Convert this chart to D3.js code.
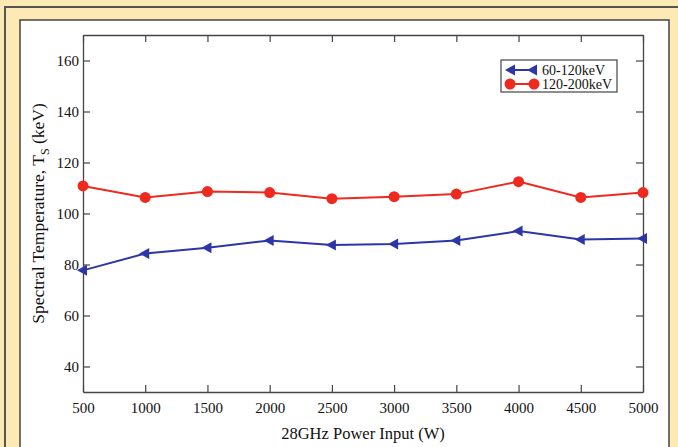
<!DOCTYPE html>
<html>
<head>
<meta charset="utf-8">
<script src="https://cdn.jsdelivr.net/npm/d3@7"></script>
<style>
  body { margin: 0; background: #fde9b3; }
  svg { display: block; font-family: "Liberation Serif", "Times New Roman", serif; }
</style>
</head>
<body>
<div id="chart"></div>
<script>
// data
const power = [500, 1000, 1500, 2000, 2500, 3000, 3500, 4000, 4500, 5000];
const lowBand = [77.7, 84.3, 86.6, 89.4, 87.6, 88.0, 89.4, 93.1, 89.8, 90.2];
const highBand = [110.8, 106.3, 108.6, 108.2, 105.8, 106.6, 107.6, 112.5, 106.3, 108.2];
const yTicks = [40, 60, 80, 100, 120, 140, 160];
const seriesNames = ["60-120keV", "120-200keV"];

const width = 678;
const height = 447;
const marginLeft = 83;
const marginRight = 35;
const marginTop = 35;
const marginBottom = 55;

const svg = d3.select("#chart")
  .append("svg")
  .attr("width", width)
  .attr("height", height);

// frame around the figure
svg.append("rect")
  .attr("x", 5).attr("y", 7)
  .attr("width", width + 10).attr("height", height + 10)
  .attr("fill", "#fde9b3")
  .attr("stroke", "#555").attr("stroke-width", 2);

svg.append("rect")
  .attr("x", 20).attr("y", 20)
  .attr("width", 649).attr("height", height)
  .attr("fill", "#fff")
  .attr("stroke", "#444").attr("stroke-width", 1.5);

// scales
const xScale = d3.scaleLinear()
  .domain([500, 5000])
  .range([marginLeft, width - marginRight]);

const yScale = d3.scaleLinear()
  .domain([30, 170])
  .range([height - marginBottom, marginTop]);

// axes, ticks point inward
const tickLen = 7;
const tickFont = 15;
const ax = svg.append("g");

function styleAxis(g) {
  g.attr("font-size", tickFont).attr("font-family", "Liberation Serif, serif");
  g.select(".domain").attr("stroke", "#444").attr("stroke-width", 1.3);
  g.selectAll(".tick line").attr("stroke", "#444").attr("stroke-width", 1.2);
  g.selectAll("text").attr("fill", "#111");
}

ax.append("g")
  .attr("transform", `translate(0,${height - marginBottom})`)
  .call(d3.axisBottom(xScale).tickValues(power).tickFormat(d3.format("d"))
    .tickSizeInner(-tickLen).tickSizeOuter(0).tickPadding(10))
  .call(styleAxis);

ax.append("g")
  .attr("transform", `translate(0,${marginTop})`)
  .call(d3.axisTop(xScale).tickValues(power).tickSizeInner(-tickLen).tickSizeOuter(0).tickFormat(""))
  .call(styleAxis);

ax.append("g")
  .attr("transform", `translate(${marginLeft},0)`)
  .call(d3.axisLeft(yScale).tickValues(yTicks).tickSizeInner(-tickLen).tickSizeOuter(0).tickPadding(4))
  .call(styleAxis);

ax.append("g")
  .attr("transform", `translate(${width - marginRight},0)`)
  .call(d3.axisRight(yScale).tickValues(yTicks).tickSizeInner(-tickLen).tickSizeOuter(0).tickFormat(""))
  .call(styleAxis);

// axis titles
svg.append("text")
  .attr("x", (marginLeft + width - marginRight) / 2)
  .attr("y", 439)
  .attr("text-anchor", "middle")
  .attr("font-size", 16.5)
  .attr("fill", "#111")
  .text("28GHz Power Input (W)");

const yLabel = svg.append("text")
  .attr("transform", `translate(44, ${(marginTop + height - marginBottom) / 2}) rotate(-90)`)
  .attr("text-anchor", "middle")
  .attr("font-size", 17.5)
  .attr("fill", "#111");
yLabel.append("tspan").text("Spectral Temperature, T");
yLabel.append("tspan").attr("font-size", 12).attr("dy", 5).text("S");
yLabel.append("tspan").attr("dy", -5).text(" (keV)");

// lines and markers
const blue = "#2e35a8";
const red = "#ee2a1f";

const line = d3.line()
  .x((d, i) => xScale(power[i]))
  .y(d => yScale(d));

const plot = svg.append("g");

plot.append("path")
  .datum(lowBand)
  .attr("fill", "none")
  .attr("stroke", blue)
  .attr("stroke-width", 2)
  .attr("d", line);

plot.append("path")
  .datum(highBand)
  .attr("fill", "none")
  .attr("stroke", red)
  .attr("stroke-width", 2)
  .attr("d", line);

// left-pointing triangles
const tri = "M-6,0L4,-5.5L4,5.5Z";

plot.selectAll(".tri")
  .data(lowBand)
  .join("path")
  .attr("class", "tri")
  .attr("d", tri)
  .attr("fill", blue)
  .attr("transform", (d, i) => `translate(${xScale(power[i])},${yScale(d)})`);

plot.selectAll(".dot")
  .data(highBand)
  .join("circle")
  .attr("class", "dot")
  .attr("cx", (d, i) => xScale(power[i]))
  .attr("cy", d => yScale(d))
  .attr("r", 5.5)
  .attr("fill", red);

// legend
const legend = svg.append("g").attr("transform", "translate(501,60)");
legend.append("rect")
  .attr("width", 116).attr("height", 32)
  .attr("fill", "#fff")
  .attr("stroke", "#444").attr("stroke-width", 1.2);

seriesNames.forEach((name, i) => {
  const y = 10 + i * 14;
  const color = i === 0 ? blue : red;
  legend.append("line")
    .attr("x1", 8).attr("x2", 34)
    .attr("y1", y).attr("y2", y)
    .attr("stroke", color).attr("stroke-width", 2);
  if (i === 0) {
    legend.append("path").attr("d", tri).attr("fill", color).attr("transform", `translate(10,${y})`);
    legend.append("path").attr("d", tri).attr("fill", color).attr("transform", `translate(32,${y})`);
  } else {
    legend.append("circle").attr("cx", 9).attr("cy", y).attr("r", 5.5).attr("fill", color);
    legend.append("circle").attr("cx", 33).attr("cy", y).attr("r", 5.5).attr("fill", color);
  }
  legend.append("text")
    .attr("x", 41).attr("y", y + 5)
    .attr("font-size", 14)
    .attr("fill", "#111")
    .text(name);
});
</script>
</body>
</html>
